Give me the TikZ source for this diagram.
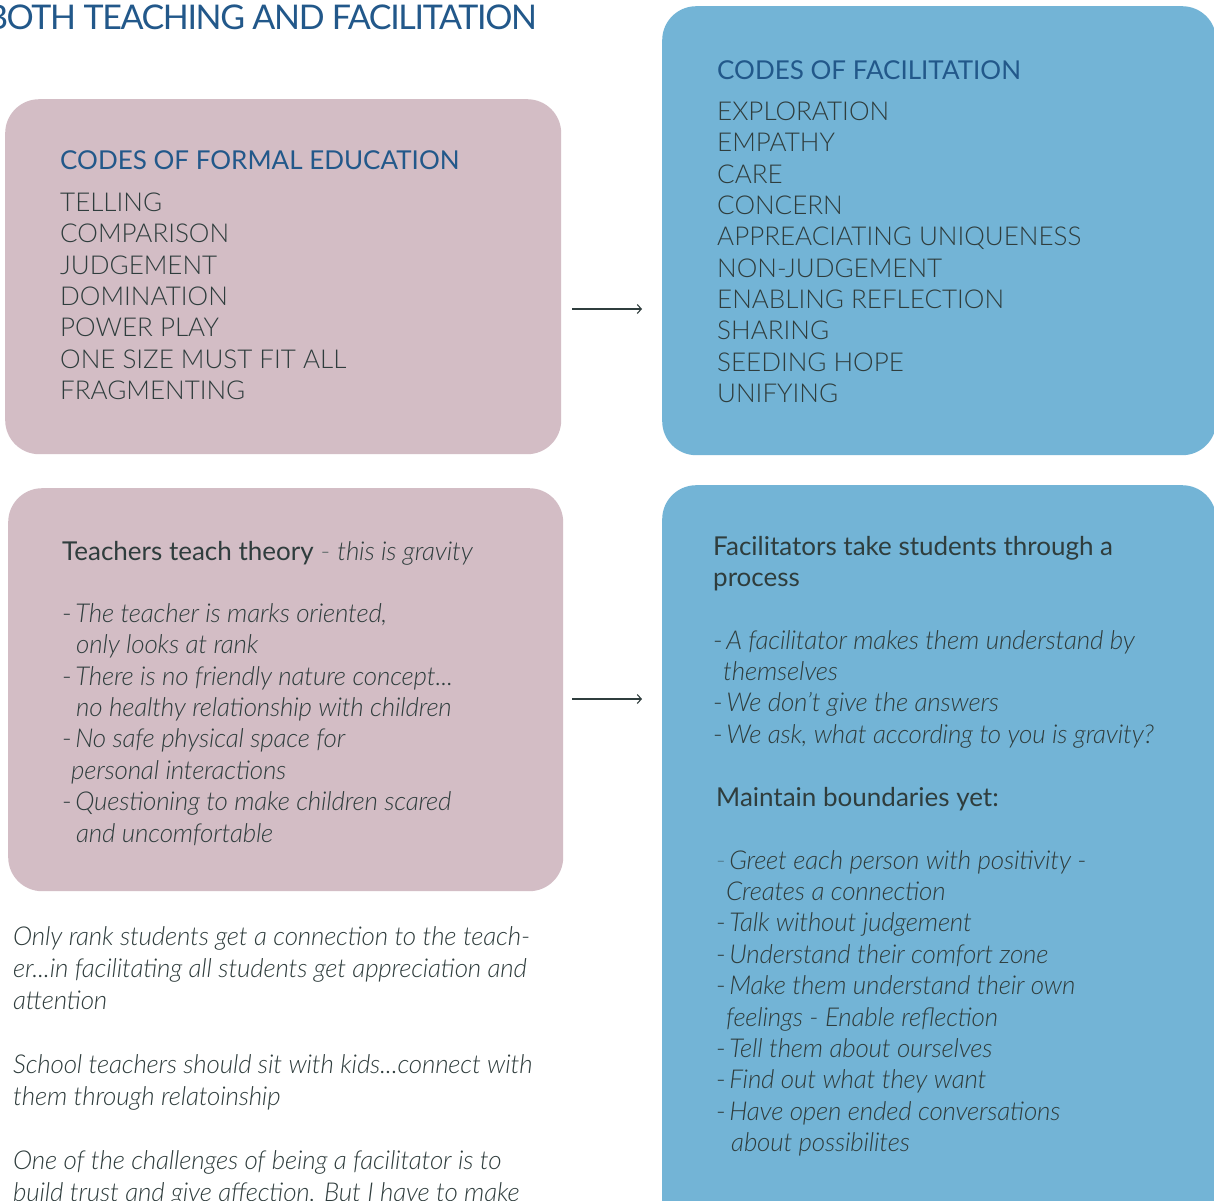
\documentclass[tikz,border=0pt]{standalone}
\usepackage{fontspec}
\setmainfont{Lato}[UprightFont=* Light, ItalicFont=* Light Italic, BoldFont=*, BoldItalicFont=* Italic, ItalicFeatures={LetterSpace=-0.8}]
\usetikzlibrary{arrows.meta}
\definecolor{pinkfill}{HTML}{D3BDC5}
\definecolor{bluefill}{HTML}{73B4D6}
\definecolor{headblue}{HTML}{22588A}
\definecolor{txt}{HTML}{2F3D3D}
\definecolor{dashgray}{HTML}{5E6A6A}
\newcommand{\dsh}{-\hspace{3.5pt}}
\begin{document}
\begin{tikzpicture}[x=1pt,y=-1pt,
  pinkbox/.style={fill=pinkfill, rounded corners=34pt, inner sep=0pt, draw=none, anchor=north west},
  bluebox/.style={fill=bluefill, rounded corners=34pt, inner sep=0pt, draw=none, anchor=north west},
  txtline/.style={anchor=base west, inner sep=0pt, text=txt, font=\fontsize{26}{31}\selectfont},
  itline/.style={txtline, font=\fontsize{26}{31}\selectfont\itshape},
  boldline/.style={txtline, font=\fontsize{26}{31}\selectfont\bfseries},
  head/.style={txtline, text=headblue, font=\fontsize{26}{31}\selectfont\bfseries},
  conn/.style={draw=txt, line width=1.1pt, -{Straight Barb[length=4pt,width=9pt]}}]
\useasboundingbox (0,0) rectangle (1214,1200);
\fill[white] (0,0) rectangle (1214,1200);

% title
\node[anchor=base east, inner sep=0pt, text=headblue, font=\fontsize{34}{40}\selectfont\bfseries\addfontfeatures{LetterSpace=-4}] (title) at (537,29.5) {BOTH TEACHING AND FACILITATION};

% boxes
\node[pinkbox, minimum width=556pt, minimum height=355pt] (fe) at (5,99) {};
\node[bluebox, minimum width=554pt, minimum height=449pt] (fc) at (662,6) {};
\node[pinkbox, minimum width=555pt, minimum height=403pt] (tt) at (8,488) {};
\node[bluebox, minimum width=554pt, minimum height=760pt] (fp) at (662,485) {};

% arrows
\coordinate (a1s) at (572,309); \coordinate (a1e) at (642,309);
\coordinate (a2s) at (572,699); \coordinate (a2e) at (642,699);
\draw[conn] (a1s) -- (a1e);
\draw[conn] (a2s) -- (a2e);

% codes of formal education
\node[head] (feh) at (60,169.5) {CODES OF FORMAL EDUCATION};
\foreach \t [count=\i] in {TELLING,COMPARISON,JUDGEMENT,DOMINATION,POWER PLAY,ONE SIZE MUST FIT ALL,FRAGMENTING}
  \node[txtline] (fe\i) at (60,{211.5+31.33*(\i-1)}) {\t};

% codes of facilitation
\node[head] (fch) at (717,79.5) {CODES OF FACILITATION};
\foreach \t [count=\i] in {EXPLORATION,EMPATHY,CARE,CONCERN,APPREACIATING UNIQUENESS,NON-JUDGEMENT,ENABLING REFLECTION,SHARING,SEEDING HOPE,UNIFYING}
  \node[txtline] (fc\i) at (717,{120.5+31.33*(\i-1)}) {\t};

% teachers teach theory
\node[txtline] (tth) at (62,560) {\textbf{Teachers teach theory} \textcolor{dashgray}{-} \textit{this is gravity}};
\node[txtline] (tt1) at (62,622.5) {\dsh\textit{The teacher is marks oriented,}};
\node[itline] (tt2) at (76,653.8) {only looks at rank};
\node[txtline] (tt3) at (62,685.2) {\dsh\textit{There is no friendly nature concept...}};
\node[itline] (tt4) at (76,716.5) {no healthy relationship with children};
\node[txtline] (tt5) at (62,747.9) {\dsh\textit{No safe physical space for}};
\node[itline] (tt6) at (71,779.2) {personal interactions};
\node[txtline] (tt7) at (62,810.6) {\dsh\textit{Questioning to make children scared}};
\node[itline] (tt8) at (76,842) {and uncomfortable};

% notes below
\node[itline] (n1) at (13,945) {Only rank students get a connection to the teach-};
\node[itline] (n2) at (13,977) {er...in facilitating all students get appreciation and};
\node[itline] (n3) at (13,1009) {attention};
\node[itline] (n4) at (13,1073) {School teachers should sit with kids...connect with};
\node[itline] (n5) at (13,1105) {them through relatoinship};
\node[itline] (n6) at (13,1169) {One of the challenges of being a facilitator is to};
\node[itline] (n7) at (13,1201) {build trust and give affection. But I have to make};

% facilitators
\node[boldline] (fph1) at (713,555) {Facilitators take students through a};
\node[boldline] (fph2) at (713,586.3) {process};
\node[txtline] (fp1) at (713,649) {\dsh\textit{A facilitator makes them understand by}};
\node[itline] (fp2) at (723,680.3) {themselves};
\node[txtline] (fp3) at (713,711.7) {\dsh\textit{We don't give the answers}};
\node[txtline] (fp4) at (713,743) {\dsh\textit{We ask, what according to you is gravity?}};
\node[boldline] (mb) at (716,806) {Maintain boundaries yet:};
\node[txtline] (mb1) at (716,869) {\textcolor{txt!45!bluefill}{-}\hspace{3.5pt}\textit{Greet each person with positivity -}};
\node[itline] (mb2) at (726,900.4) {Creates a connection};
\node[txtline] (mb3) at (716,931.8) {\dsh\textit{Talk without judgement}};
\node[txtline] (mb4) at (716,963.2) {\dsh\textit{Understand their comfort zone}};
\node[txtline] (mb5) at (716,994.6) {\dsh\textit{Make them understand their own}};
\node[itline] (mb6) at (726,1026) {feelings - Enable reflection};
\node[txtline] (mb7) at (716,1057.4) {\dsh\textit{Tell them about ourselves}};
\node[txtline] (mb8) at (716,1088.8) {\dsh\textit{Find out what they want}};
\node[txtline] (mb9) at (716,1120.2) {\dsh\textit{Have open ended conversations}};
\node[itline] (mb10) at (731,1151.6) {about possibilites};
\end{tikzpicture}
\end{document}
